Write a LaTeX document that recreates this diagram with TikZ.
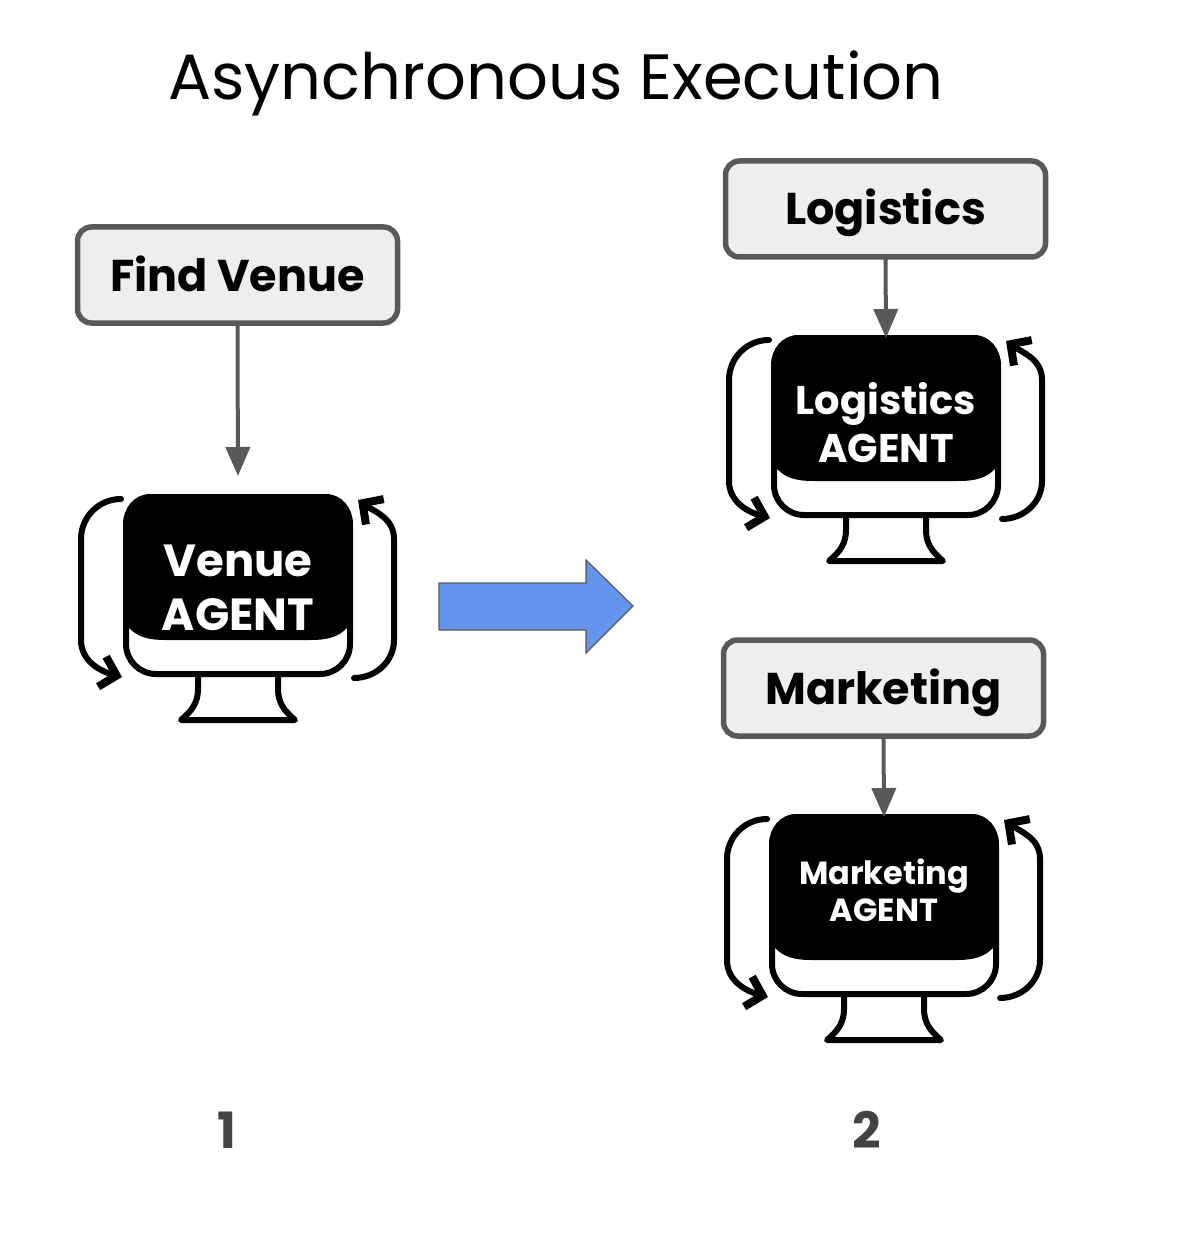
\documentclass[tikz,border=0pt]{standalone}
\usepackage{xcolor}
\usepackage{fontspec}
\usepackage{tikz}
\usetikzlibrary{arrows.meta}
\setmainfont{Poppins}
\definecolor{taskgrey}{HTML}{595959}
\definecolor{taskfill}{HTML}{EEEEEE}
\definecolor{numgrey}{HTML}{434343}
\definecolor{moveblue}{HTML}{6495ED}
\tikzset{
    taskbox/.style={draw=taskgrey, fill=taskfill, line width=5.5pt, rounded corners=14pt,
        minimum width=320pt, minimum height=96pt, outer sep=0pt, text height=40pt, text depth=8pt,
        inner ysep=0pt, font=\fontsize{44.5}{48}\selectfont\bfseries},
    taskarrow/.style={draw=taskgrey, line width=4pt, -{Triangle[length=29pt,width=24pt]}},
    loopline/.style={line width=6pt, line cap=round, -{Straight Barb[length=15pt,width=31pt,line width=8pt]}},
    monitorbody/.style={draw, line width=6pt, rounded corners=30pt, minimum width=224pt, minimum height=177pt, outer sep=0pt},
    agentlabel/.style={text=white, align=center}
}
% monitor with its two loops: name, x of centre, y of top, y of label, font size, leading
\newcommand{\agentmonitor}[6]{
    \begin{scope}[shift={(#2,#3)}]
        \node[monitorbody] (#1) at (0,91.5) {};
        \fill (-88,0) -- (88,0) to[out=0,in=90] (115,30) -- (109,134)
            .. controls (100,143) and (90,146) .. (72,146) -- (-72,146)
            .. controls (-90,146) and (-100,143) .. (-109,134) -- (-115,30) to[out=90,in=180] cycle;
        % stand
        \draw[line width=6pt, line join=round] (-40,183) -- (-40,195) to[out=-90,in=40] (-57,226) -- (57,226)
            to[in=-90,out=140] (40,195) -- (40,183);
        % loops
        \draw[loopline] (-117,5) to[out=180,in=90] (-157,45) -- (-157,146) to[out=-90,in=165] (-116,183);
        \draw[loopline] (116,184) to[out=0,in=-90] (156,146) -- (156,45) to[out=90,in=-35] (120,6);
        \node[agentlabel, font=\fontsize{#5}{#6}\selectfont\bfseries] (#1label) at (0,#4) {\agentname\\AGENT};
    \end{scope}
}
\begin{document}
\begin{tikzpicture}[x=1pt,y=-1pt]
    \useasboundingbox (0,0) rectangle (1177,1238);
    \node[font=\fontsize{64}{70}\selectfont] (title) at (556,83) {Asynchronous Execution};

    % task boxes
    \node[taskbox] (findvenue) at (237.5,275) {Find Venue};
    \node[taskbox] (logistics) at (885.5,209) {Logistics};
    \node[taskbox] (marketing) at (883.5,688) {Marketing};

    % agent monitors
    \def\agentname{Venue}
    \agentmonitor{venueagent}{238}{494}{94}{45}{54}
    \def\agentname{Logistics}
    \agentmonitor{logisticsagent}{886}{335}{88}{40}{48}
    \def\agentname{Marketing}
    \agentmonitor{marketingagent}{884}{814}{76}{32}{37}

    % task arrows
    \draw[taskarrow, shorten >=21pt] (findvenue.south) -- (venueagent.north);
    \draw[taskarrow] (logistics.south) -- (logisticsagent.north);
    \draw[taskarrow] (marketing.south) -- (marketingagent.north);

    % big arrow between the steps
    \filldraw[fill=moveblue, draw=taskgrey, line width=1.2pt] (439,583) -- (586,583) -- (586,560) -- (633,606) -- (586,653) -- (586,630) -- (439,630) -- cycle;

    % step numbers
    \node[text=numgrey, font=\fontsize{50}{55}\selectfont\bfseries] (stepone) at (227,1130) {1};
    \node[text=numgrey, font=\fontsize{50}{55}\selectfont\bfseries] (steptwo) at (867,1130) {2};
\end{tikzpicture}
\end{document}
